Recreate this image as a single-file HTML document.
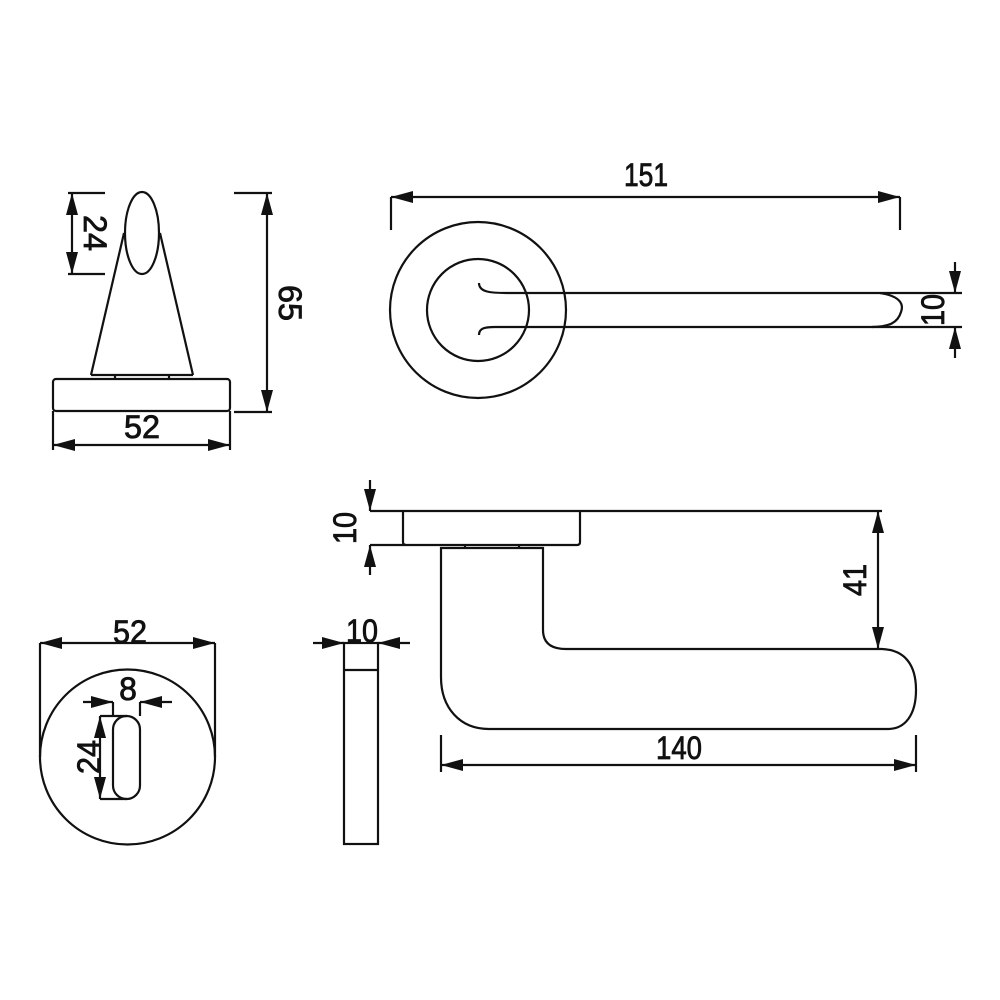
<!DOCTYPE html>
<html><head><meta charset="utf-8"><style>html,body{margin:0;padding:0;background:#fff}svg{display:block}</style></head>
<body>
<svg width="1000" height="1000" viewBox="0 0 1000 1000" xmlns="http://www.w3.org/2000/svg">
<defs>
<marker id="a" viewBox="0 0 22 12" refX="22" refY="6" markerWidth="22" markerHeight="12" markerUnits="userSpaceOnUse" orient="auto-start-reverse">
<path d="M0,0 L22,6 L0,12 Z" fill="#111"/>
</marker>
</defs>
<g fill="none" stroke="#111" stroke-width="2.2">
<ellipse cx="142" cy="233" rx="17" ry="41"/>
<line x1="124" y1="233" x2="91" y2="375"/>
<line x1="160" y1="233" x2="193" y2="375"/>
<line x1="91" y1="375" x2="193" y2="375"/>
<line x1="115" y1="375" x2="115" y2="379"/>
<line x1="169" y1="375" x2="169" y2="379"/>
<rect x="53" y="379" width="177" height="32" rx="3"/>
<line x1="53" y1="411" x2="53" y2="450"/>
<line x1="230" y1="411" x2="230" y2="450"/>
<line x1="53" y1="445" x2="230" y2="445" marker-start="url(#a)" marker-end="url(#a)"/>
<line x1="68" y1="193" x2="105" y2="193"/>
<line x1="68" y1="274" x2="105" y2="274"/>
<line x1="72" y1="193" x2="72" y2="274" marker-start="url(#a)" marker-end="url(#a)"/>
<line x1="234" y1="193" x2="272" y2="193"/>
<line x1="234" y1="412" x2="272" y2="412"/>
<line x1="267" y1="193" x2="267" y2="412" marker-start="url(#a)" marker-end="url(#a)"/>

<circle cx="478" cy="310" r="88"/>
<circle cx="478" cy="310" r="51"/>
<path d="M479,283 C479,292 490,293 507,293 L880,293"/>
<path d="M479,335 C479,328 485,327 495,327 L872,327"/>
<path d="M880,293 C900,296 904,304 901,312 C898,322 890,327 872,327"/>
<line x1="880" y1="293" x2="962" y2="293"/>
<line x1="872" y1="327" x2="962" y2="327"/>
<line x1="955" y1="262" x2="955" y2="293" marker-end="url(#a)"/>
<line x1="955" y1="358" x2="955" y2="327" marker-end="url(#a)"/>
<line x1="391" y1="197" x2="391" y2="230"/>
<line x1="900" y1="197" x2="900" y2="230"/>
<line x1="391" y1="197" x2="900" y2="197" marker-start="url(#a)" marker-end="url(#a)"/>

<line x1="370" y1="511" x2="882" y2="511"/>
<path d="M370,545 L577,545 Q580,545 580,542 L580,511"/>
<path d="M403,511 L403,542 Q403,545 406,545"/>
<line x1="370" y1="480" x2="370" y2="511" marker-end="url(#a)"/>
<line x1="370" y1="575" x2="370" y2="545" marker-end="url(#a)"/>
<line x1="465" y1="545" x2="465" y2="548"/>
<line x1="519" y1="545" x2="519" y2="548"/>
<path d="M441,548 L543,548 L543,630 Q543,649 566,649 L882,649 C905,650 916,665 916,690 C916,715 905,729 888,729 L489,729 C460,729 441,708 441,677 Z"/>
<line x1="878" y1="511" x2="878" y2="649" marker-start="url(#a)" marker-end="url(#a)"/>
<line x1="441" y1="735" x2="441" y2="772"/>
<line x1="916" y1="735" x2="916" y2="772"/>
<line x1="441" y1="765" x2="916" y2="765" marker-start="url(#a)" marker-end="url(#a)"/>

<circle cx="127.5" cy="757" r="87.5"/>
<line x1="40" y1="643" x2="40" y2="757"/>
<line x1="215" y1="643" x2="215" y2="757"/>
<line x1="40" y1="643" x2="215" y2="643" marker-start="url(#a)" marker-end="url(#a)"/>
<rect x="113" y="716" width="27" height="83" rx="13.5"/>
<line x1="113" y1="702" x2="113" y2="716"/>
<line x1="140" y1="702" x2="140" y2="716"/>
<line x1="83" y1="702" x2="113" y2="702" marker-end="url(#a)"/>
<line x1="172" y1="702" x2="140" y2="702" marker-end="url(#a)"/>
<line x1="100" y1="716" x2="127" y2="716"/>
<line x1="100" y1="799" x2="127" y2="799"/>
<line x1="100" y1="716" x2="100" y2="799" marker-start="url(#a)" marker-end="url(#a)"/>

<rect x="344" y="643" width="34" height="201"/>
<line x1="344" y1="670" x2="378" y2="670"/>
<line x1="313" y1="643" x2="344" y2="643" marker-end="url(#a)"/>
<line x1="410" y1="643" x2="378" y2="643" marker-end="url(#a)"/>
</g>
<g font-family="'Liberation Sans', sans-serif" font-size="32" fill="#111" stroke="#111" stroke-width="0.8" text-anchor="middle">
<text x="142" y="438" textLength="36" lengthAdjust="spacingAndGlyphs">52</text>
<text transform="translate(84,233) rotate(90)" textLength="36" lengthAdjust="spacingAndGlyphs">24</text>
<text transform="translate(279,303) rotate(90)" textLength="36" lengthAdjust="spacingAndGlyphs">65</text>
<text x="646" y="186" textLength="44" lengthAdjust="spacingAndGlyphs">151</text>
<text transform="translate(944,310) rotate(-90)" textLength="32" lengthAdjust="spacingAndGlyphs">10</text>
<text transform="translate(356,528) rotate(-90)" textLength="32" lengthAdjust="spacingAndGlyphs">10</text>
<text transform="translate(866,580) rotate(-90)" textLength="32" lengthAdjust="spacingAndGlyphs">41</text>
<text x="679" y="759" textLength="46" lengthAdjust="spacingAndGlyphs">140</text>
<text x="130" y="643" textLength="34" lengthAdjust="spacingAndGlyphs">52</text>
<text x="128" y="700">8</text>
<text transform="translate(100,757) rotate(-90)" textLength="34" lengthAdjust="spacingAndGlyphs">24</text>
<text x="362" y="642" textLength="32" lengthAdjust="spacingAndGlyphs">10</text>
</g>
</svg>
</body></html>
